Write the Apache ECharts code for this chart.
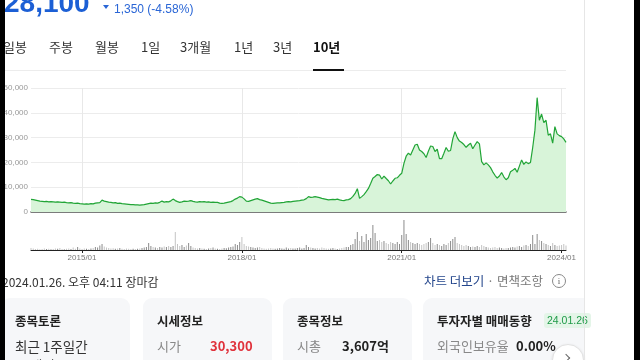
<!DOCTYPE html>
<html><head><meta charset="utf-8">
<script src="https://cdn.jsdelivr.net/npm/echarts@6/dist/echarts.min.js"></script>
<style>
html,body{margin:0;padding:0;width:640px;height:360px;overflow:hidden;background:#fff;}
#chart{position:absolute;left:0;top:0;width:640px;height:360px;}
.t{position:absolute;white-space:nowrap;font-family:"Noto Sans CJK KR","Liberation Sans",sans-serif;}
.n{font-family:"Liberation Sans","Noto Sans CJK KR",sans-serif;}
.card{position:absolute;top:298px;width:129px;height:80px;background:#f6f7f9;border-radius:9px;}
</style></head>
<body>
<div id="chart"></div>

<div class="t n" style="left:4px;top:-11px;font-size:28px;line-height:28px;font-weight:bold;color:#1c5fd5;">28,100</div>
<div style="position:absolute;left:103px;top:5px;width:0;height:0;border-left:3px solid transparent;border-right:3px solid transparent;border-top:4px solid #2a66d6;"></div>
<div class="t n" style="left:114px;top:2px;font-size:12px;line-height:14px;color:#2a66d6;">1,350 (-4.58%)</div>

<div class="t" style="left:3px;top:39px;font-size:13px;line-height:16px;color:#333;">일봉</div>
<div class="t" style="left:49px;top:39px;font-size:13px;line-height:16px;color:#333;">주봉</div>
<div class="t" style="left:95px;top:39px;font-size:13px;line-height:16px;color:#333;">월봉</div>
<div class="t" style="left:141px;top:39px;font-size:13px;line-height:16px;color:#333;">1일</div>
<div class="t" style="left:180px;top:39px;font-size:13px;line-height:16px;color:#333;">3개월</div>
<div class="t" style="left:234px;top:39px;font-size:13px;line-height:16px;color:#333;">1년</div>
<div class="t" style="left:273px;top:39px;font-size:13px;line-height:16px;color:#333;">3년</div>
<div class="t" style="left:313px;top:39px;font-size:13px;line-height:16px;color:#111;font-weight:bold;">10년</div>
<div style="position:absolute;left:5px;top:70px;width:561px;height:1px;background:#ececec;"></div>
<div style="position:absolute;left:313px;top:69px;width:31px;height:2px;background:#111;"></div>

<div class="t" style="left:2px;top:274px;font-size:12px;line-height:16px;color:#333;">2024.01.26. 오후 04:11 장마감</div>
<div class="t" style="left:424px;top:273px;font-size:12.5px;line-height:16px;color:#24468c;">차트 더보기 <span style="color:#777;">· 면책조항</span></div>
<div style="position:absolute;left:552px;top:274px;width:12px;height:12px;border:1px solid #888;border-radius:50%;font:9px 'Liberation Serif',serif;color:#666;text-align:center;line-height:12px;">i</div>

<div class="card" style="left:1px;"></div>
<div class="card" style="left:143px;"></div>
<div class="card" style="left:283px;"></div>
<div class="card" style="left:423px;width:161px;border-radius:9px 0 0 9px;"></div>

<div class="t" style="left:15px;top:313px;font-size:12.5px;line-height:16px;font-weight:bold;color:#222;">종목토론</div>
<div class="t" style="left:15px;top:337px;font-size:13.5px;line-height:18px;color:#333;">최근 1주일간</div>
<div class="t" style="left:15px;top:356px;font-size:13.5px;line-height:18px;color:#333;">50개의</div>

<div class="t" style="left:157px;top:313px;font-size:12.5px;line-height:16px;font-weight:bold;color:#222;">시세정보</div>
<div class="t" style="left:157px;top:337px;font-size:13px;line-height:18px;color:#888;">시가</div>
<div class="t" style="left:210px;top:337px;font-size:13px;line-height:18px;color:#e0323c;font-weight:bold;">30,300</div>

<div class="t" style="left:297px;top:313px;font-size:12.5px;line-height:16px;font-weight:bold;color:#222;">종목정보</div>
<div class="t" style="left:297px;top:337px;font-size:13px;line-height:18px;color:#888;">시총</div>
<div class="t" style="left:342px;top:337px;font-size:13px;line-height:18px;color:#222;font-weight:bold;">3,607억</div>

<div class="t" style="left:437px;top:313px;font-size:12.5px;line-height:16px;font-weight:bold;color:#222;">투자자별 매매동향</div>
<div class="t n" style="left:544px;top:313px;font-size:10.5px;line-height:15px;padding:0 3px;background:#e4f5e8;color:#1f9a48;border-radius:3px;">24.01.26</div>
<div class="t" style="left:437px;top:337px;font-size:13px;line-height:18px;color:#888;">외국인보유율</div>
<div class="t" style="left:516px;top:337px;font-size:13px;line-height:18px;color:#222;font-weight:bold;">0.00%</div>
<div style="position:absolute;left:552px;top:344px;width:30px;height:30px;border-radius:50%;background:#fff;border:1px solid #e2e2e2;box-shadow:0 1px 3px rgba(0,0,0,0.12);"></div>
<div style="position:absolute;left:563px;top:355px;width:5px;height:5px;border-top:1px solid #666;border-right:1px solid #666;transform:rotate(45deg);"></div>

<div style="position:absolute;left:584px;top:0;width:1px;height:360px;background:#e6e6e6;"></div>
<div style="position:absolute;left:0;top:0;width:5px;height:360px;background:#000;"></div>
<div style="position:absolute;left:634px;top:0;width:6px;height:360px;background:#000;"></div>

<script>
// ---- data ----
const price2014 = [5100,5000,4800,4600,4400,4300,4200,4300,4100,4200,4100,4000,4100,4000,3900,4000,3800,3700,3800,3600,3500,3600,3400];
const price2015 = [3300,3200,3300,3200,3400,3300,3600,3700,3800,4800,4400,4200,4000,3900,3700,3800,3500,3600,3400,3300,3200,3100,3000,3000];
const price2016 = [2900,2900,2800,2900,3000,3200,3400,3600,3500,3700,3600,3900,4400,4000,4200,4100,4500,5200,4600,4200,3900,4100,4400,4300];
const price2017 = [4400,4600,4300,4100,4000,4200,4100,4200,4000,4100,3900,4000,3900,3900,3600,3500,3600,3800,4000,4200,4600,5200,5600,6200];
const price2018 = [6000,5300,4400,4300,4600,4900,5200,5400,5000,4800,4500,4200,3900,3600,3500,3600,3700,3700,3800,3900,4100,4200,4100,4300];
const price2019 = [4400,4500,4600,4800,4900,5400,6200,5900,6000,6200,6000,5800,5500,5300,5100,4900,5000,5100,5000,5200,4900,4700,4600,4900];
const price2020 = [5000,5400,6300,7500,9400,5500,6200,7000,8200,9500,11500,13600,14300,15100,14900,13300,14500,13500,12600,11300,12500,13600,13800,14800];
const price2021 = [15600,19600,22500,23700,23000,25000,27000,27300,25000,24400,23500,22000,24500,26600,26400,24400,25300,21500,21500,23700,26000,24500,24800,29500];
const price2022 = [32400,30000,28600,28000,27200,26100,27000,27700,25500,27000,28400,27500,20300,19000,19800,19000,17900,16200,14800,13700,14500,15900,14200,13000];
const price2023 = [13800,16200,16800,17600,16000,18500,21000,19200,20200,19500,20000,26000,33000,46100,37000,39500,36000,37000,31000,31500,27800,34400,31500,30800];
const price2024 = [30400,29500,28100];

const vol2014 = [20,15,10,12,8,10,15,10,12,8,10,15,12,20,10,8,12,15,10,25,12,30,15];
const vol2015 = [10,15,12,10,15,20,30,25,45,60,35,25,20,15,18,12,15,20,12,10,15,12,10,12];
const vol2016 = [10,12,15,20,25,30,70,40,30,25,20,30,25,35,30,40,30,40,180,60,40,50,30,45];
const vol2017 = [70,40,25,20,15,20,15,12,10,15,20,25,15,12,10,15,20,18,25,30,35,60,50,80];
const vol2018 = [130,60,40,35,30,25,20,25,30,20,15,12,15,20,15,12,15,20,15,12,25,15,20,15];
const vol2019 = [15,20,25,15,20,50,30,25,20,15,20,15,25,20,15,12,15,20,15,10,15,20,25,30];
const vol2020 = [30,50,60,110,180,90,140,80,160,100,120,250,170,90,100,80,90,70,60,80,70,60,80,60];
const vol2021 = [150,300,160,100,80,70,60,70,60,50,60,70,80,120,70,50,60,50,40,60,50,70,90,110];
const vol2022 = [130,70,60,50,40,50,40,30,35,30,40,30,50,40,30,25,20,25,30,20,25,20,15,20];
const vol2023 = [20,25,30,25,35,40,30,45,50,40,60,150,60,160,100,90,70,60,50,40,70,50,40,45];
const vol2024 = [50,60,45];

const yTicks = [0,10000,20000,30000,40000,50000];
const xTickLabels = ['2015/01','2018/01','2021/01','2024/01'];

// categories: semi-monthly trading dates
const categories = ['2014/01/27'];
for (let y = 2014; y <= 2024; y++) {
  for (let m = 1; m <= 12; m++) {
    for (const d of [1,16]) {
      const s = y + '/' + String(m).padStart(2,'0') + '/' + String(d).padStart(2,'0');
      if (s >= '2014/02/01' && s <= '2024/01/16') categories.push(s);
    }
  }
}
categories.push('2024/01/26');

const prices = [].concat(price2014,price2015,price2016,price2017,price2018,price2019,price2020,price2021,price2022,price2023,price2024);
const volumes = [].concat(vol2014,vol2015,vol2016,vol2017,vol2018,vol2019,vol2020,vol2021,vol2022,vol2023,vol2024);

const labelSet = new Set(xTickLabels.map(s => s + '/01'));
const showAt = (i, v) => labelSet.has(v);

const volData = volumes.map((v, i) => ({
  value: v,
  itemStyle: { color: (i > 0 && prices[i] >= prices[i-1]) ? '#8c8c8c' : '#c4c4c4' }
}));

const chart = echarts.init(document.getElementById('chart'), null, {renderer:'canvas'});
chart.setOption({
  animation: false,
  grid: [
    {left: 31, right: 74, top: 88, height: 124},
    {left: 31, right: 74, top: 219, height: 31}
  ],
  xAxis: [
    {type:'category', gridIndex:0, data: categories, boundaryGap:false,
     axisLine:{show:true, lineStyle:{color:'#555', width:1.5}},
     axisTick:{show:false}, axisLabel:{show:false},
     splitLine:{show:true, interval: showAt, lineStyle:{color:'#e8e8e8', width:1}}},
    {type:'category', gridIndex:1, data: categories, boundaryGap:false,
     axisLine:{show:true, lineStyle:{color:'#222', width:1}},
     axisTick:{show:true, interval: showAt, length:3, lineStyle:{color:'#222'}},
     axisLabel:{show:true, interval: showAt, margin:4, fontSize:8, color:'#777',
       fontFamily:'Liberation Sans', formatter: v => v.slice(0,7)},
     splitLine:{show:false}}
  ],
  yAxis: [
    {type:'value', gridIndex:0, min: yTicks[0], max: yTicks[yTicks.length-1], interval: 10000,
     axisLine:{show:false}, axisTick:{show:false},
     axisLabel:{fontSize:8, color:'#999', margin:3, fontFamily:'Liberation Sans',
       formatter: v => v.toLocaleString('en-US')},
     splitLine:{lineStyle:{color:'#ececec', width:1}}},
    {type:'value', gridIndex:1, min:0, max:310, show:false, splitLine:{show:false}}
  ],
  series: [
    {type:'line', xAxisIndex:0, yAxisIndex:0, data: prices, symbol:'none', smooth:false,
     lineStyle:{color:'#22a537', width:1.2},
     areaStyle:{color:'#d8f4d9', opacity:1}},
    {type:'bar', xAxisIndex:1, yAxisIndex:1, data: volData, barWidth:1}
  ]
});
</script>
</body></html>
